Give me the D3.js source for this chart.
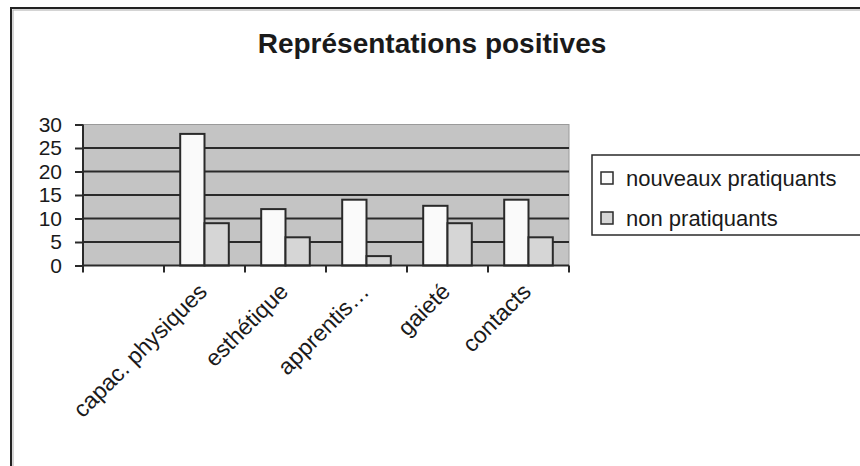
<!DOCTYPE html>
<html>
<head>
<meta charset="utf-8">
<script src="https://cdn.jsdelivr.net/npm/d3@7"></script>
<style>
  body { margin: 0; background: #fff; }
  text { font-family: "Liberation Sans", Arial, sans-serif; fill: #1a1a1a; }
</style>
</head>
<body>
<script>
var categories = ["", "capac. physiques", "esthétique", "apprentis…", "gaieté", "contacts"];
var nouveaux = [null, 28, 12, 14, 12.7, 14];
var nonPratiquants = [null, 9, 6, 2, 9, 6];
var seriesNames = ["nouveaux pratiquants", "non pratiquants"];
var seriesColors = ["#fafafa", "#d6d6d6"];
var yTicks = [0, 5, 10, 15, 20, 25, 30];

var width = 860,
    height = 466;

var plotLeft = 83, plotRight = 569, plotTop = 124.5, plotBottom = 265.5;

var svg = d3.select("body").append("svg")
    .attr("width", width)
    .attr("height", height);

// outer frame (only left and top visible)
svg.append("rect")
    .attr("x", 11).attr("y", 8)
    .attr("width", 900).attr("height", 500)
    .attr("fill", "none")
    .attr("stroke", "#222")
    .attr("stroke-width", 2);
svg.append("rect")
    .attr("x", 13).attr("y", 10)
    .attr("width", 900).attr("height", 500)
    .attr("fill", "none")
    .attr("stroke", "#aaa")
    .attr("stroke-width", 1);

svg.append("text")
    .attr("x", 432)
    .attr("y", 53)
    .attr("text-anchor", "middle")
    .style("font-weight", "bold")
    .style("font-size", "28px")
    .text("Représentations positives");

var x0 = d3.scaleBand().domain(categories).range([plotLeft, plotRight]);
var x1 = d3.scaleBand().domain(seriesNames)
    .range([x0.bandwidth() * 0.2, x0.bandwidth() * 0.8]);
var y = d3.scaleLinear().domain([0, 30]).range([plotBottom, plotTop]);

// plot area
svg.append("rect")
    .attr("x", plotLeft).attr("y", plotTop)
    .attr("width", plotRight - plotLeft).attr("height", plotBottom - plotTop)
    .attr("fill", "#c4c4c4")
    .attr("stroke", "#9a9a9a")
    .attr("stroke-width", 1);

// gridlines
svg.append("g")
  .selectAll("line")
  .data(yTicks.filter(function(d) { return d > 0 && d < 30; }))
  .enter().append("line")
    .attr("x1", plotLeft).attr("x2", plotRight)
    .attr("y1", function(d) { return y(d); })
    .attr("y2", function(d) { return y(d); })
    .attr("stroke", "#2a2a2a")
    .attr("stroke-width", 2);

// bars
var rows = categories.map(function(c, i) {
  return { cat: c, values: [nouveaux[i], nonPratiquants[i]] };
});

var groups = svg.append("g")
  .selectAll("g")
  .data(rows)
  .enter().append("g")
    .attr("transform", function(d) { return "translate(" + x0(d.cat) + ",0)"; });

groups.selectAll("rect")
  .data(function(d) {
    return d.values.map(function(v, j) { return { name: seriesNames[j], value: v, j: j }; })
      .filter(function(e) { return e.value != null; });
  })
  .enter().append("rect")
    .attr("x", function(d) { return x1(d.name); })
    .attr("width", x1.bandwidth())
    .attr("y", function(d) { return y(d.value); })
    .attr("height", function(d) { return plotBottom - y(d.value); })
    .attr("fill", function(d) { return seriesColors[d.j]; })
    .attr("stroke", "#2a2a2a")
    .attr("stroke-width", 2);

// y axis
var yAxis = svg.append("g")
    .attr("transform", "translate(" + plotLeft + ",0)")
    .call(d3.axisLeft(y).tickValues(yTicks).tickSize(8).tickPadding(13));
yAxis.selectAll("text").style("font-size", "21px").attr("fill", "#1a1a1a");
yAxis.selectAll("line, path").attr("stroke", "#2a2a2a").attr("stroke-width", 2);
yAxis.select(".domain").attr("d", "M0," + plotTop + "V" + plotBottom);

// x axis with ticks at band edges
var edges = categories.map(function(c) { return x0(c); }).concat([plotRight]);
svg.append("line")
    .attr("x1", plotLeft).attr("x2", plotRight)
    .attr("y1", plotBottom).attr("y2", plotBottom)
    .attr("stroke", "#2a2a2a").attr("stroke-width", 2);
svg.append("g")
  .selectAll("line")
  .data(edges)
  .enter().append("line")
    .attr("x1", function(d) { return d; })
    .attr("x2", function(d) { return d; })
    .attr("y1", plotBottom).attr("y2", plotBottom + 7)
    .attr("stroke", "#2a2a2a").attr("stroke-width", 2);

svg.append("g")
  .selectAll("text")
  .data(categories.filter(function(c) { return c !== ""; }))
  .enter().append("text")
    .attr("transform", function(d) {
      return "translate(" + (x0(d) + x0.bandwidth() / 2 + 4) + ",293) rotate(-45)";
    })
    .attr("text-anchor", "end")
    .style("font-size", "23px")
    .text(function(d) { return d; });

// legend
var legend = svg.append("g");
legend.append("rect")
    .attr("x", 592).attr("y", 155)
    .attr("width", 300).attr("height", 80)
    .attr("fill", "#fff")
    .attr("stroke", "#2a2a2a")
    .attr("stroke-width", 1.5);

var items = legend.selectAll("g.item")
  .data(seriesNames)
  .enter().append("g")
    .attr("class", "item")
    .attr("transform", function(d, i) { return "translate(601," + (172 + i * 40) + ")"; });
items.append("rect")
    .attr("width", 12).attr("height", 12)
    .attr("fill", function(d, i) { return seriesColors[i]; })
    .attr("stroke", "#2a2a2a")
    .attr("stroke-width", 1.5);
items.append("text")
    .attr("x", 25)
    .attr("y", 6)
    .attr("dy", "0.36em")
    .style("font-size", "22px")
    .text(function(d) { return d; });
</script>
</body>
</html>
